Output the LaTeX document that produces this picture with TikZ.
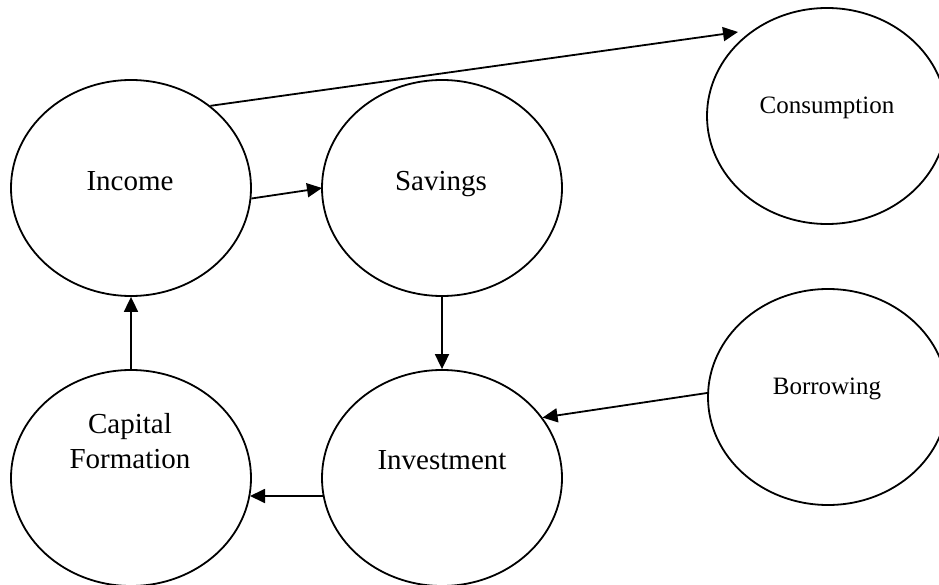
\documentclass[tikz,border=0pt]{standalone}
\usepackage{fontspec}
\setmainfont{Liberation Serif}
\usetikzlibrary{shapes.geometric,arrows.meta,calc}
\begin{document}
\begin{tikzpicture}[x=1pt,y=-1pt,
  bubble/.style={draw=black, line width=1.8pt, ellipse, inner sep=0pt, minimum width=240pt, minimum height=216pt},
  bigtxt/.style={font=\fontsize{29}{35}\selectfont, inner sep=0pt, anchor=base, align=center},
  smalltxt/.style={font=\fontsize{25}{30}\selectfont, inner sep=0pt, anchor=base},
  flow/.style={line width=1.8pt, -{Triangle[length=15pt,width=14pt]}}]
\useasboundingbox (0,0) rectangle (939,585);
\clip (0,0) rectangle (939,585);
\node[bubble] (inc) at (131,188) {};
\node[bubble] (sav) at (442,188) {};
\node[bubble] (con) at (827,116) {};
\node[bubble] (bor) at (828,397) {};
\node[bubble] (cap) at (131,478) {};
\node[bubble] (inv) at (442,478) {};
\node[bigtxt] (tinc) at (130,191) {Income};
\node[bigtxt] (tsav) at (441,191) {Savings};
\node[smalltxt] (tcon) at (827,114) {Consumption};
\node[smalltxt] (tbor) at (827,394) {Borrowing};
\node[bigtxt] (tcap) at (130,468) {Capital\\Formation};
\node[bigtxt] (tinv) at (442,469) {Investment};
\draw[flow] (inc.46) -- ($(con.center)+(-89,-84)$);
\draw[flow] (inc.-5) -- ($(sav.center)+(-120,0)$);
\draw[flow] (sav.south) -- (inv.north);
\draw[flow] (cap.north) -- (inc.south);
\draw[flow] ($(inv.center)+(-119,18)$) -- ($(cap.center)+(119,18)$);
\draw[flow] ($(bor.center)+(-121,-4)$) -- (inv.31.6);
\end{tikzpicture}
\end{document}
